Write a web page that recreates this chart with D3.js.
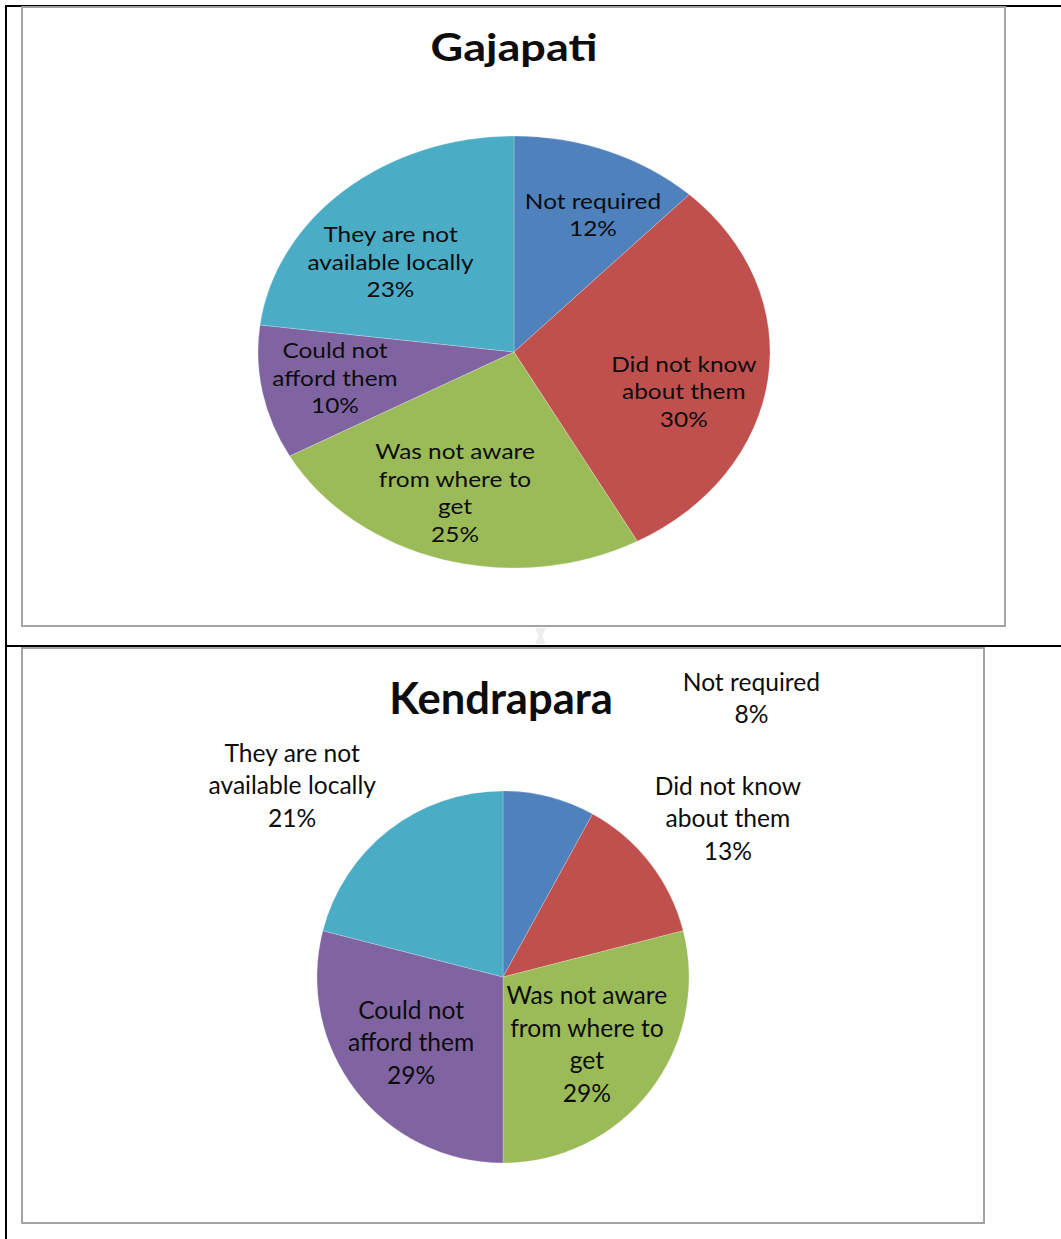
<!DOCTYPE html>
<html>
<head>
<meta charset="utf-8">
<script src="https://cdn.jsdelivr.net/npm/d3@7"></script>
<style>
  html, body { margin: 0; padding: 0; background: #fff; }
  svg { display: block; }
  text { font-family: Lato, "Open Sans", sans-serif; fill: #0d0d0d; }
</style>
</head>
<body>
<script>
// Reasons given, in slice order (clockwise from 12 o'clock)
const categories = [
  "Not required",
  "Did not know about them",
  "Was not aware from where to get",
  "Could not afford them",
  "They are not available locally"
];
// How each category label wraps
const categoryLines = [
  ["Not required"],
  ["Did not know", "about them"],
  ["Was not aware", "from where to", "get"],
  ["Could not", "afford them"],
  ["They are not", "available locally"]
];
const gajapatiValues = [12, 30, 25, 10, 23];
const kendraparaValues = [8, 13, 29, 29, 21];
const sliceColors = ["#4F81BD", "#C0504D", "#9BBB59", "#8064A2", "#4BACC6"];

const W = 1061, H = 1239;
const svg = d3.select("body").append("svg").attr("width", W).attr("height", H);

// Page table rules
svg.append("line").attr("x1", 5).attr("x2", W).attr("y1", 6).attr("y2", 6)
  .attr("stroke", "#000").attr("stroke-width", 2);
svg.append("line").attr("x1", 6).attr("x2", 6).attr("y1", 5).attr("y2", H)
  .attr("stroke", "#000").attr("stroke-width", 2);
svg.append("line").attr("x1", 5).attr("x2", W).attr("y1", 646).attr("y2", 646)
  .attr("stroke", "#000").attr("stroke-width", 2);
// table move handle
svg.append("path")
  .attr("d", "M535,628 L546,628 L542,636 L546,644 L535,644 L539,636 Z")
  .attr("fill", "#ededed");

const charts = [
  {
    title: "Gajapati", values: gajapatiValues,
    frame: { x0: 22, y0: 7, x1: 1005, y1: 626 },
    cx: 514, cy: 352, r: 216, sx: 256 / 216,
    titleX: 514, titleY: 61, titleSize: 38,
    labelSize: 20.6, lineH: 27.5,
    nudge: [[13, 6], [-8, 23], [-9, -2], [-3, 0], [-5, 26]]
  },
  {
    title: "Kendrapara", values: kendraparaValues,
    frame: { x0: 22, y0: 648, x1: 984, y1: 1223 },
    cx: 503, cy: 977, r: 186, sx: 1,
    titleX: 501, titleY: 714, titleSize: 43.5,
    labelSize: 24.6, lineH: 32.5,
    nudge: [[216, -150], [122, -76], [-19, -10], [11, -12], [-131, -86]]
  }
];

const pie = d3.pie().sort(null).value(d => d);

charts.forEach(c => {
  const g = svg.append("g");
  const f = c.frame;
  // chart frame
  g.append("rect").attr("x", f.x0).attr("y", f.y0)
    .attr("width", f.x1 - f.x0).attr("height", f.y1 - f.y0)
    .attr("fill", "#fff").attr("stroke", "#a3a3a3").attr("stroke-width", 2);

  // title
  g.append("text")
    .attr("transform", `translate(${c.titleX},${c.titleY}) scale(${c.sx},1)`)
    .attr("text-anchor", "middle")
    .attr("font-weight", "bold")
    .attr("font-size", c.titleSize)
    .text(c.title);

  const arcs = pie(c.values);
  const arc = d3.arc().innerRadius(0).outerRadius(c.r);
  const labelArc = d3.arc().innerRadius(c.r * 0.7).outerRadius(c.r * 0.7);

  const pieG = g.append("g")
    .attr("transform", `translate(${c.cx},${c.cy}) scale(${c.sx},1)`);
  pieG.selectAll("path").data(arcs).join("path")
    .attr("d", arc)
    .attr("fill", (d, i) => sliceColors[i])
    .attr("stroke", "rgba(255,255,255,0.35)")
    .attr("stroke-width", 0.6);

  arcs.forEach((d, i) => {
    const [px, py] = labelArc.centroid(d);
    const x = c.cx + px * c.sx + c.nudge[i][0];
    const y = c.cy + py + c.nudge[i][1];
    const lines = categoryLines[i].concat([d.data + "%"]);
    const t = g.append("text")
      .attr("transform", `translate(${x},${y}) scale(${c.sx},1)`)
      .attr("text-anchor", "middle")
      .attr("font-size", c.labelSize);
    lines.forEach((ln, k) => {
      t.append("tspan")
        .attr("x", 0)
        .attr("y", (k - (lines.length - 1) / 2) * c.lineH)
        .attr("dominant-baseline", "middle")
        .text(ln);
    });
  });
});
</script>
</body>
</html>
